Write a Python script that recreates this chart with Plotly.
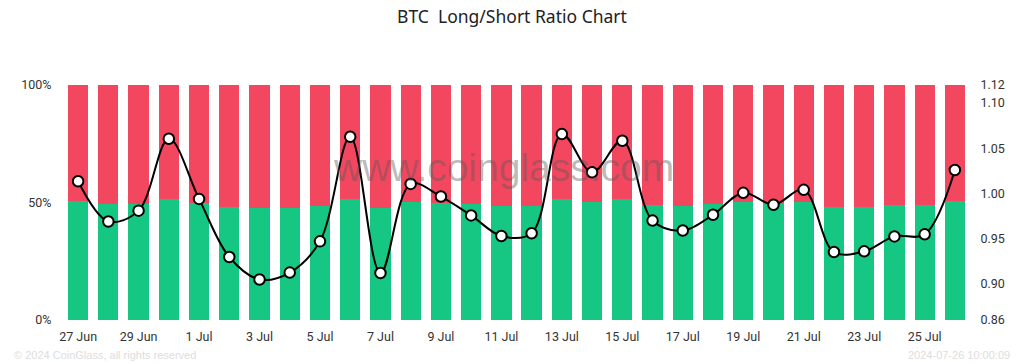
import plotly.graph_objects as go

dates = ["27 Jun", "28 Jun", "29 Jun", "30 Jun", "1 Jul", "2 Jul", "3 Jul", "4 Jul", "5 Jul", "6 Jul",
         "7 Jul", "8 Jul", "9 Jul", "10 Jul", "11 Jul", "12 Jul", "13 Jul", "14 Jul", "15 Jul", "16 Jul",
         "17 Jul", "18 Jul", "19 Jul", "20 Jul", "21 Jul", "22 Jul", "23 Jul", "24 Jul", "25 Jul", "26 Jul"]

long_pct = [50.6, 49.4, 49.4, 51.4, 49.9, 48.2, 47.5, 47.8, 48.5, 51.4,
            47.8, 50.4, 49.9, 49.4, 48.5, 48.6, 51.4, 50.4, 51.4, 48.9,
            48.5, 49.2, 50.4, 49.6, 50.4, 48.2, 48.2, 48.9, 48.9, 50.8]
short_pct = [round(100 - v, 1) for v in long_pct]

ratio = [1.0135, 0.969, 0.981, 1.0605, 0.994, 0.9297, 0.9048, 0.9125, 0.947, 1.0627,
         0.912, 1.0106, 0.9966, 0.9757, 0.9529, 0.956, 1.0657, 1.0234, 1.0583, 0.970,
         0.959, 0.9764, 1.0007, 0.9875, 1.004, 0.9352, 0.936, 0.9525, 0.9548, 1.026]

x_ticks = dates[::2]
left_ticks = [0, 50, 100]
left_labels = ["0%", "50%", "100%"]
right_ticks = [0.86, 0.90, 0.95, 1.00, 1.05, 1.10, 1.12]

GREEN = "#16c784"
RED = "#f3475f"
TICKFONT = dict(size=12.5, color="#333333")

fig = go.Figure()
fig.add_trace(go.Bar(x=dates, y=long_pct, marker=dict(color=GREEN, line=dict(width=0)), name="Long"))
fig.add_trace(go.Bar(x=dates, y=short_pct, marker=dict(color=RED, line=dict(width=0)), name="Short"))
fig.add_trace(go.Scatter(x=dates, y=ratio, yaxis="y2", mode="lines+markers",
                         line=dict(color="#000000", width=2, shape="spline", smoothing=1.0),
                         marker=dict(size=10.5, color="#ffffff", line=dict(color="#000000", width=2)),
                         name="Ratio"))

fig.update_layout(
    width=1024, height=363,
    margin=dict(l=63, r=54, t=85, b=43, autoexpand=False),
    paper_bgcolor="white", plot_bgcolor="white",
    barmode="stack", bargap=0.33,
    showlegend=False,
    font=dict(family="Roboto, sans-serif", size=12, color="#333333"),
    title=dict(text="BTC\u00a0 Long/Short Ratio Chart", x=0.5, xanchor="center",
               y=1 - 17 / 363, yanchor="middle",
               font=dict(family="Noto Sans, sans-serif", size=17.5, color="#222222")),
    xaxis=dict(type="category", range=[-0.5, len(dates) - 0.5], tickmode="array",
               tickvals=x_ticks, ticktext=x_ticks,
               showgrid=False, showline=False, zeroline=False,
               ticks="outside", ticklen=5, tickcolor="rgba(0,0,0,0)", tickfont=TICKFONT,
               automargin=False),
    yaxis=dict(range=[0, 100], tickmode="array", tickvals=left_ticks, ticktext=left_labels,
               showgrid=False, zeroline=False, showline=False,
               ticks="outside", ticklen=8, tickcolor="rgba(0,0,0,0)", tickfont=TICKFONT,
               automargin=False),
    yaxis2=dict(range=[0.86, 1.12], overlaying="y", side="right", tickmode="array",
                tickvals=right_ticks, ticktext=[f"{v:.2f}" for v in right_ticks],
                showgrid=False, zeroline=False, showline=False,
                ticks="outside", ticklen=7, tickcolor="rgba(0,0,0,0)",
                tickfont=TICKFONT, automargin=False),
    annotations=[
        dict(text="www.coinglass.com", xref="paper", yref="paper", x=0.486, y=0.647,
             xanchor="center", yanchor="middle", showarrow=False,
             font=dict(family="Arial, Liberation Sans, sans-serif", size=39, color="rgba(90,90,90,0.42)")),
        dict(text="© 2024 CoinGlass, all rights reserved", xref="paper", yref="paper",
             x=-0.056, y=-0.149, xanchor="left", yanchor="middle", showarrow=False,
             font=dict(family="Arial, Liberation Sans, sans-serif", size=11, color="#dddddd")),
        dict(text="2024-07-26 10:00:09", xref="paper", yref="paper",
             x=1.046, y=-0.149, xanchor="right", yanchor="middle", showarrow=False,
             font=dict(family="Arial, Liberation Sans, sans-serif", size=11, color="#dddddd")),
    ],
)

fig.write_html("out.html", config={"displayModeBar": False},
               post_script="document.body.style.margin='0';document.body.style.overflow='hidden';")
